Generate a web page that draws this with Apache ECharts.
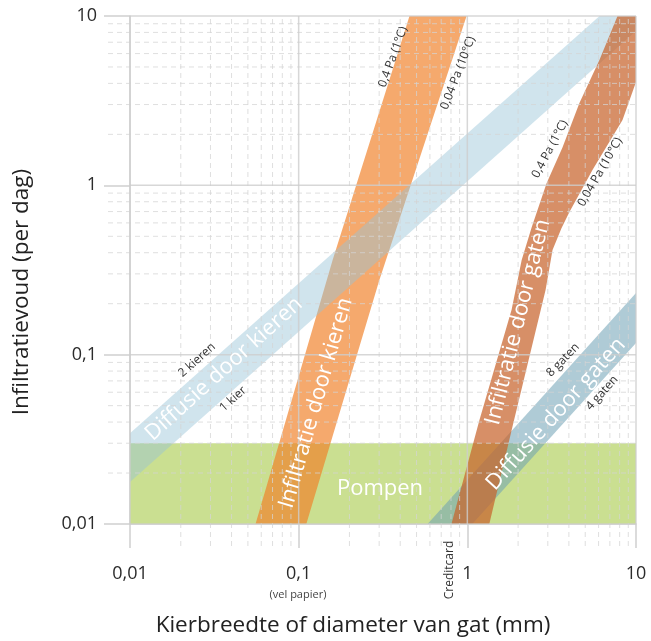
<!DOCTYPE html>
<html><head><meta charset="utf-8">
<script src="https://cdn.jsdelivr.net/npm/echarts@6/dist/echarts.min.js"></script>
<style>html,body{margin:0;padding:0;background:#fff}#c{width:651px;height:641px}</style>
</head><body><div id="c"></div>
<script>
// ---- axis ticks ----
const xTickValues = [0.01, 0.1, 1, 10];
const xTickLabels = ['0,01', '0,1', '1', '10'];
const yTickValues = [0.01, 0.1, 1, 10];
const yTickLabels = ['0,01', '0,1', '1', '10'];
const minorMultipliers = [2, 3, 4, 5, 6, 7, 8, 9];

// ---- bands (x = kierbreedte/diameter mm, y = infiltratievoud per dag) ----
const pompenBottom = 0.01;
const pompenTop = 0.030;

const diffKierenUpper = [[0.01, 0.0344], [6.08, 10]];   // 2 kieren
const diffKierenLower = [[0.01, 0.0177], [10, 8.15]];   // 1 kier

const infKierenLeft = [[0.0555, 0.01], [0.159, 0.362], [0.454, 10]];  // 0,4 Pa (1°C)
const infKierenRight = [[0.111, 0.01], [0.301, 0.276], [0.99, 10]];   // 0,04 Pa (10°C)

const infGatenLeft = [[0.805, 0.01], [1.18, 0.0411], [1.83, 0.184], [2.10, 0.362], [2.40, 0.560],
  [2.95, 1.03], [3.67, 1.68], [4.62, 3.06], [6.07, 5.50], [7.77, 10]];          // 0,4 Pa (1°C)
const infGatenRight = [[1.35, 0.01], [1.85, 0.0374], [2.91, 0.241], [3.20, 0.415], [3.62, 0.560],
  [4.03, 0.696], [5.52, 1.23], [8.32, 2.43], [10, 4.08]];                        // 0,04 Pa (10°C)

const diffGatenUpper = [[0.581, 0.01], [10, 0.231]];   // 8 gaten
const diffGatenLower = [[1.07, 0.01], [10, 0.117]];    // 4 gaten

const xMin = 0.01, xMax = 10, yMin = 0.01, yMax = 10;

const FONT = "'Open Sans', 'Noto Sans', sans-serif";

function labelFor(arr, v) {
  const i = Math.round(Math.log10(v)) + 2;
  return arr[i] !== undefined ? arr[i] : '';
}

function polySeries(name, points, fill) {
  return {
    type: 'custom', name: name, coordinateSystem: 'cartesian2d', silent: true, clip: true,
    data: [[1, 1]],
    renderItem: function (params, api) {
      return { type: 'polygon', shape: { points: points.map(p => api.coord(p)) }, style: { fill: fill } };
    }
  };
}

const pompenPoly = [[xMin, pompenBottom], [xMax, pompenBottom], [xMax, pompenTop], [xMin, pompenTop]];
const diffKierenPoly = diffKierenUpper.concat([[xMax, yMax]], diffKierenLower.slice().reverse());
const infKierenPoly = infKierenLeft.concat(infKierenRight.slice().reverse());
const infGatenPoly = infGatenLeft.concat([[xMax, yMax]], infGatenRight.slice().reverse());
const diffGatenPoly = diffGatenUpper.concat(diffGatenLower.slice().reverse());

const gridSeries = {
  type: 'custom', coordinateSystem: 'cartesian2d', silent: true, clip: false, z: 10,
  data: [[1, 1]],
  renderItem: function (params, api) {
    const children = [];
    const ext = 22;
    const minorStyle = { stroke: 'rgba(212,212,212,0.75)', lineWidth: 1, lineDash: [5, 4] };
    const majorStyle = { stroke: 'rgba(205,205,205,0.8)', lineWidth: 1.5 };
    const decades = xTickValues.slice(0, -1);
    decades.forEach(d => {
      minorMultipliers.forEach(m => {
        const v = d * m;
        const a = api.coord([v, yMin]), b = api.coord([v, yMax]);
        children.push({ type: 'line', shape: { x1: a[0], y1: a[1] + ext, x2: b[0], y2: b[1] }, style: minorStyle });
        const c = api.coord([xMin, v]), e = api.coord([xMax, v]);
        children.push({ type: 'line', shape: { x1: c[0] - ext, y1: c[1], x2: e[0], y2: e[1] }, style: minorStyle });
      });
    });
    xTickValues.forEach(v => {
      const a = api.coord([v, yMin]), b = api.coord([v, yMax]);
      children.push({ type: 'line', shape: { x1: a[0], y1: a[1], x2: b[0], y2: b[1] }, style: majorStyle });
    });
    yTickValues.forEach(v => {
      const a = api.coord([xMin, v]), b = api.coord([xMax, v]);
      children.push({ type: 'line', shape: { x1: a[0], y1: a[1], x2: b[0], y2: b[1] }, style: majorStyle });
    });
    return { type: 'group', children: children };
  }
};

function txt(text, x, y, deg, size, color) {
  return {
    type: 'text', x: x, y: y, rotation: deg * Math.PI / 180, z: 100, silent: true,
    style: { text: text, fill: color, font: size + 'px ' + FONT, align: 'center', verticalAlign: 'middle',
      textAlign: 'center', textVerticalAlign: 'middle' }
  };
}

const W = '#ffffff', D = '#333333';

const option = {
  animation: false,
  backgroundColor: '#ffffff',
  grid: { left: 130, right: 15, top: 16, bottom: 117, containLabel: false },
  xAxis: {
    type: 'log', logBase: 10, min: xMin, max: xMax,
    axisLine: { show: true, lineStyle: { color: '#cfcfcf', width: 1.5 } },
    axisTick: { show: true, length: 24, lineStyle: { color: '#cfcfcf', width: 1.5 } },
    axisLabel: { margin: 41, fontSize: 18, color: '#2b2b2b', fontFamily: FONT, formatter: v => labelFor(xTickLabels, v) },
    splitLine: { show: false }
  },
  yAxis: {
    type: 'log', logBase: 10, min: yMin, max: yMax,
    axisLine: { show: true, lineStyle: { color: '#cfcfcf', width: 1.5 } },
    axisTick: { show: true, length: 26, lineStyle: { color: '#cfcfcf', width: 1.5 } },
    axisLabel: { margin: 33, fontSize: 18, color: '#2b2b2b', fontFamily: FONT, formatter: v => labelFor(yTickLabels, v) },
    splitLine: { show: false }
  },
  series: [
    polySeries('Pompen', pompenPoly, '#cadf91'),
    polySeries('Diffusie door gaten', diffGatenPoly, 'rgba(110,160,180,0.55)'),
    polySeries('Infiltratie door kieren', infKierenPoly, 'rgba(240,128,40,0.68)'),
    polySeries('Diffusie door kieren', diffKierenPoly, 'rgba(150,195,215,0.45)'),
    polySeries('Infiltratie door gaten', infGatenPoly, 'rgba(200,100,45,0.72)'),
    gridSeries
  ],
  graphic: [
    txt('Diffusie door kieren', 224, 369, 42, 22, W),
    txt('Infiltratie door kieren', 316, 403, 74, 22, W),
    txt('Pompen', 380, 489, 0, 22, W),
    txt('Infiltratie door gaten', 518, 322, 76, 22, W),
    txt('Diffusie door gaten', 556, 414, 48, 22, W),
    txt('2 kieren', 197, 360, 42, 12, D),
    txt('1 kier', 233, 399, 42, 12, D),
    txt('0,4 Pa (1°C)', 393, 57, 70, 12, D),
    txt('0,04 Pa (10°C)', 458, 73, 69, 12, D),
    txt('0,4 Pa (1°C)', 550, 149, 62, 12, D),
    txt('0,04 Pa (10°C)', 600, 172, 60, 12, D),
    txt('8 gaten', 563, 360, 46, 12, D),
    txt('4 gaten', 602, 393, 48, 12, D),
    txt('Creditcard', 450, 570, 90, 12, D),
    txt('(vel papier)', 298, 595, 0, 11, '#444'),
    txt('Kierbreedte of diameter van gat (mm)', 353, 626, 0, 22.5, '#222'),
    txt('Infiltratievoud (per dag)', 22, 292, 90, 22.5, '#222')
  ]
};

const chart = echarts.init(document.getElementById('c'), null, { renderer: 'canvas' });
chart.setOption(option);
</script>
</body></html>
